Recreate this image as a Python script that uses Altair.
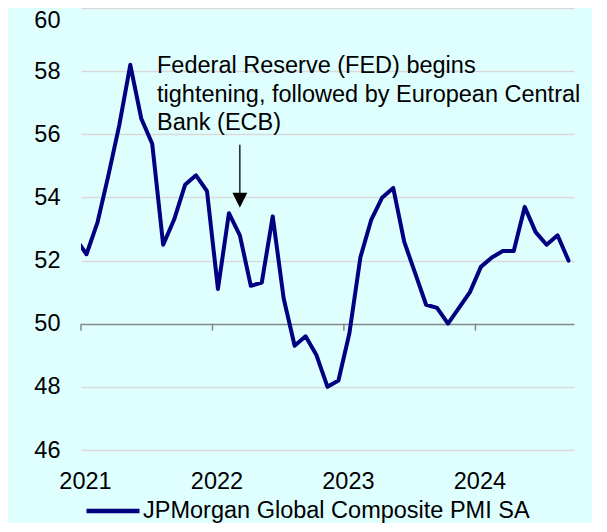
import altair as alt
import pandas as pd

# ---------------- data ----------------
months = [
    "2020-12",
    "2021-01", "2021-02", "2021-03", "2021-04", "2021-05", "2021-06",
    "2021-07", "2021-08", "2021-09", "2021-10", "2021-11", "2021-12",
    "2022-01", "2022-02", "2022-03", "2022-04", "2022-05", "2022-06",
    "2022-07", "2022-08", "2022-09", "2022-10", "2022-11", "2022-12",
    "2023-01", "2023-02", "2023-03", "2023-04", "2023-05", "2023-06",
    "2023-07", "2023-08", "2023-09", "2023-10", "2023-11", "2023-12",
    "2024-01", "2024-02", "2024-03", "2024-04", "2024-05", "2024-06",
    "2024-07", "2024-08", "2024-09",
]
pmi = [
    52.7,
    52.2, 53.2, 54.7, 56.3, 58.2, 56.5, 55.7, 52.5, 53.3, 54.4, 54.7, 54.2,
    51.1, 53.5, 52.8, 51.2, 51.3, 53.4, 50.8, 49.3, 49.6, 49.0, 48.0, 48.2,
    49.7, 52.1, 53.3, 54.0, 54.3, 52.6, 51.6, 50.6, 50.5, 50.0, 50.5, 51.0,
    51.8, 52.1, 52.3, 52.3, 53.7, 52.9, 52.5, 52.8, 52.0,
]
series_name = "JPMorgan Global Composite PMI SA"
year_ticks = [2021, 2022, 2023, 2024]
y_ticks = [46, 48, 50, 52, 54, 56, 58, 60]
annotation_lines = [
    "Federal Reserve (FED) begins",
    "tightening, followed by European Central",
    "Bank (ECB)",
]
annotation_month = "2022-03"

# ---------------- styling ----------------
FONT = "Liberation Sans"
NAVY = "#000080"
BG = "#DFFFFF"
GRID = "#D9D9D9"
AXIS = "#868686"


def month_to_x(m):
    y, mo = m.split("-")
    return int(y) + (int(mo) - 0.5) / 12.0


df = pd.DataFrame({"month": months, "pmi": pmi})
df["x"] = df["month"].map(month_to_x)
df["series"] = series_name

ticks_df = pd.DataFrame({"x": year_ticks})
arrow_x = month_to_x(annotation_month)
arrow_df = pd.DataFrame({"x": [arrow_x]})
text_df = pd.DataFrame({"x": [2021.578], "label": ["\n".join(annotation_lines)]})

xscale = alt.Scale(domain=[2021, 2024.75], nice=False, zero=False)
yscale = alt.Scale(domain=[46, 60], nice=False, zero=False)

x_axis = alt.Axis(
    values=year_ticks, format="d", title=None, grid=False, domain=False,
    ticks=False, labelFont=FONT, labelFontSize=23.5, labelColor="#000000",
    labelPadding=19, labelOffset=4, labelFlush=False, labelOverlap=False,
)
y_axis = alt.Axis(
    values=y_ticks, title=None, domain=False, ticks=False,
    labelFont=FONT, labelFontSize=23.5, labelColor="#000000", labelPadding=21,
    labelBaseline={"condition": {"test": "datum.value == 60", "value": "top"}, "value": "middle"},
    labelFlush=False, labelOverlap=False,
    grid=True,
    gridColor={"condition": {"test": "datum.value == 50", "value": AXIS}, "value": GRID},
    gridWidth=1.5,
)

line = alt.Chart(df).mark_line(
    strokeWidth=4, clip=True, strokeJoin="round", strokeCap="round"
).encode(
    x=alt.X("x:Q", scale=xscale, axis=x_axis),
    y=alt.Y("pmi:Q", scale=yscale, axis=y_axis),
    color=alt.Color(
        "series:N",
        scale=alt.Scale(domain=[series_name], range=[NAVY]),
        legend=alt.Legend(
            title=None, orient="none", legendX=3, legendY=474,
            symbolType="stroke", symbolSize=2809, symbolStrokeWidth=4.5,
            labelFont=FONT, labelFontSize=23.5, labelColor="#000000",
            labelOffset=1, labelLimit=0, padding=0,
        ),
    ),
)

tick_marks = alt.Chart(ticks_df).mark_rule(color=AXIS, strokeWidth=1.5).encode(
    x=alt.X("x:Q", scale=xscale),
    y=alt.datum(50, scale=yscale),
    y2=alt.datum(49.78),
)

arrow_shaft = alt.Chart(arrow_df).mark_rule(color="#000000", strokeWidth=1.3).encode(
    x=alt.X("x:Q", scale=xscale),
    y=alt.datum(55.67, scale=yscale),
    y2=alt.datum(54.1),
)

arrow_head = alt.Chart(arrow_df).mark_point(
    shape="M-1,-1L1,-1L0,1Z", size=220, filled=True, color="#000000", opacity=1
).encode(
    x=alt.X("x:Q", scale=xscale),
    y=alt.datum(53.91, scale=yscale),
)

annotation = alt.Chart(text_df).mark_text(
    align="left", baseline="alphabetic", font=FONT, fontSize=23.5,
    lineBreak="\n", lineHeight=28.5, color="#000000",
).encode(
    x=alt.X("x:Q", scale=xscale),
    y=alt.datum(57.94, scale=yscale),
    text="label:N",
)

chart = alt.layer(line, tick_marks, arrow_shaft, arrow_head, annotation).properties(
    width=493, height=442,
    autosize=alt.AutoSizeParams(type="none"),
    padding={"left": 73, "top": 0, "right": 18, "bottom": 73},
).configure(background=BG).configure_view(stroke=None)

chart.save("out.html", embed_options={"renderer": "svg", "actions": False})
